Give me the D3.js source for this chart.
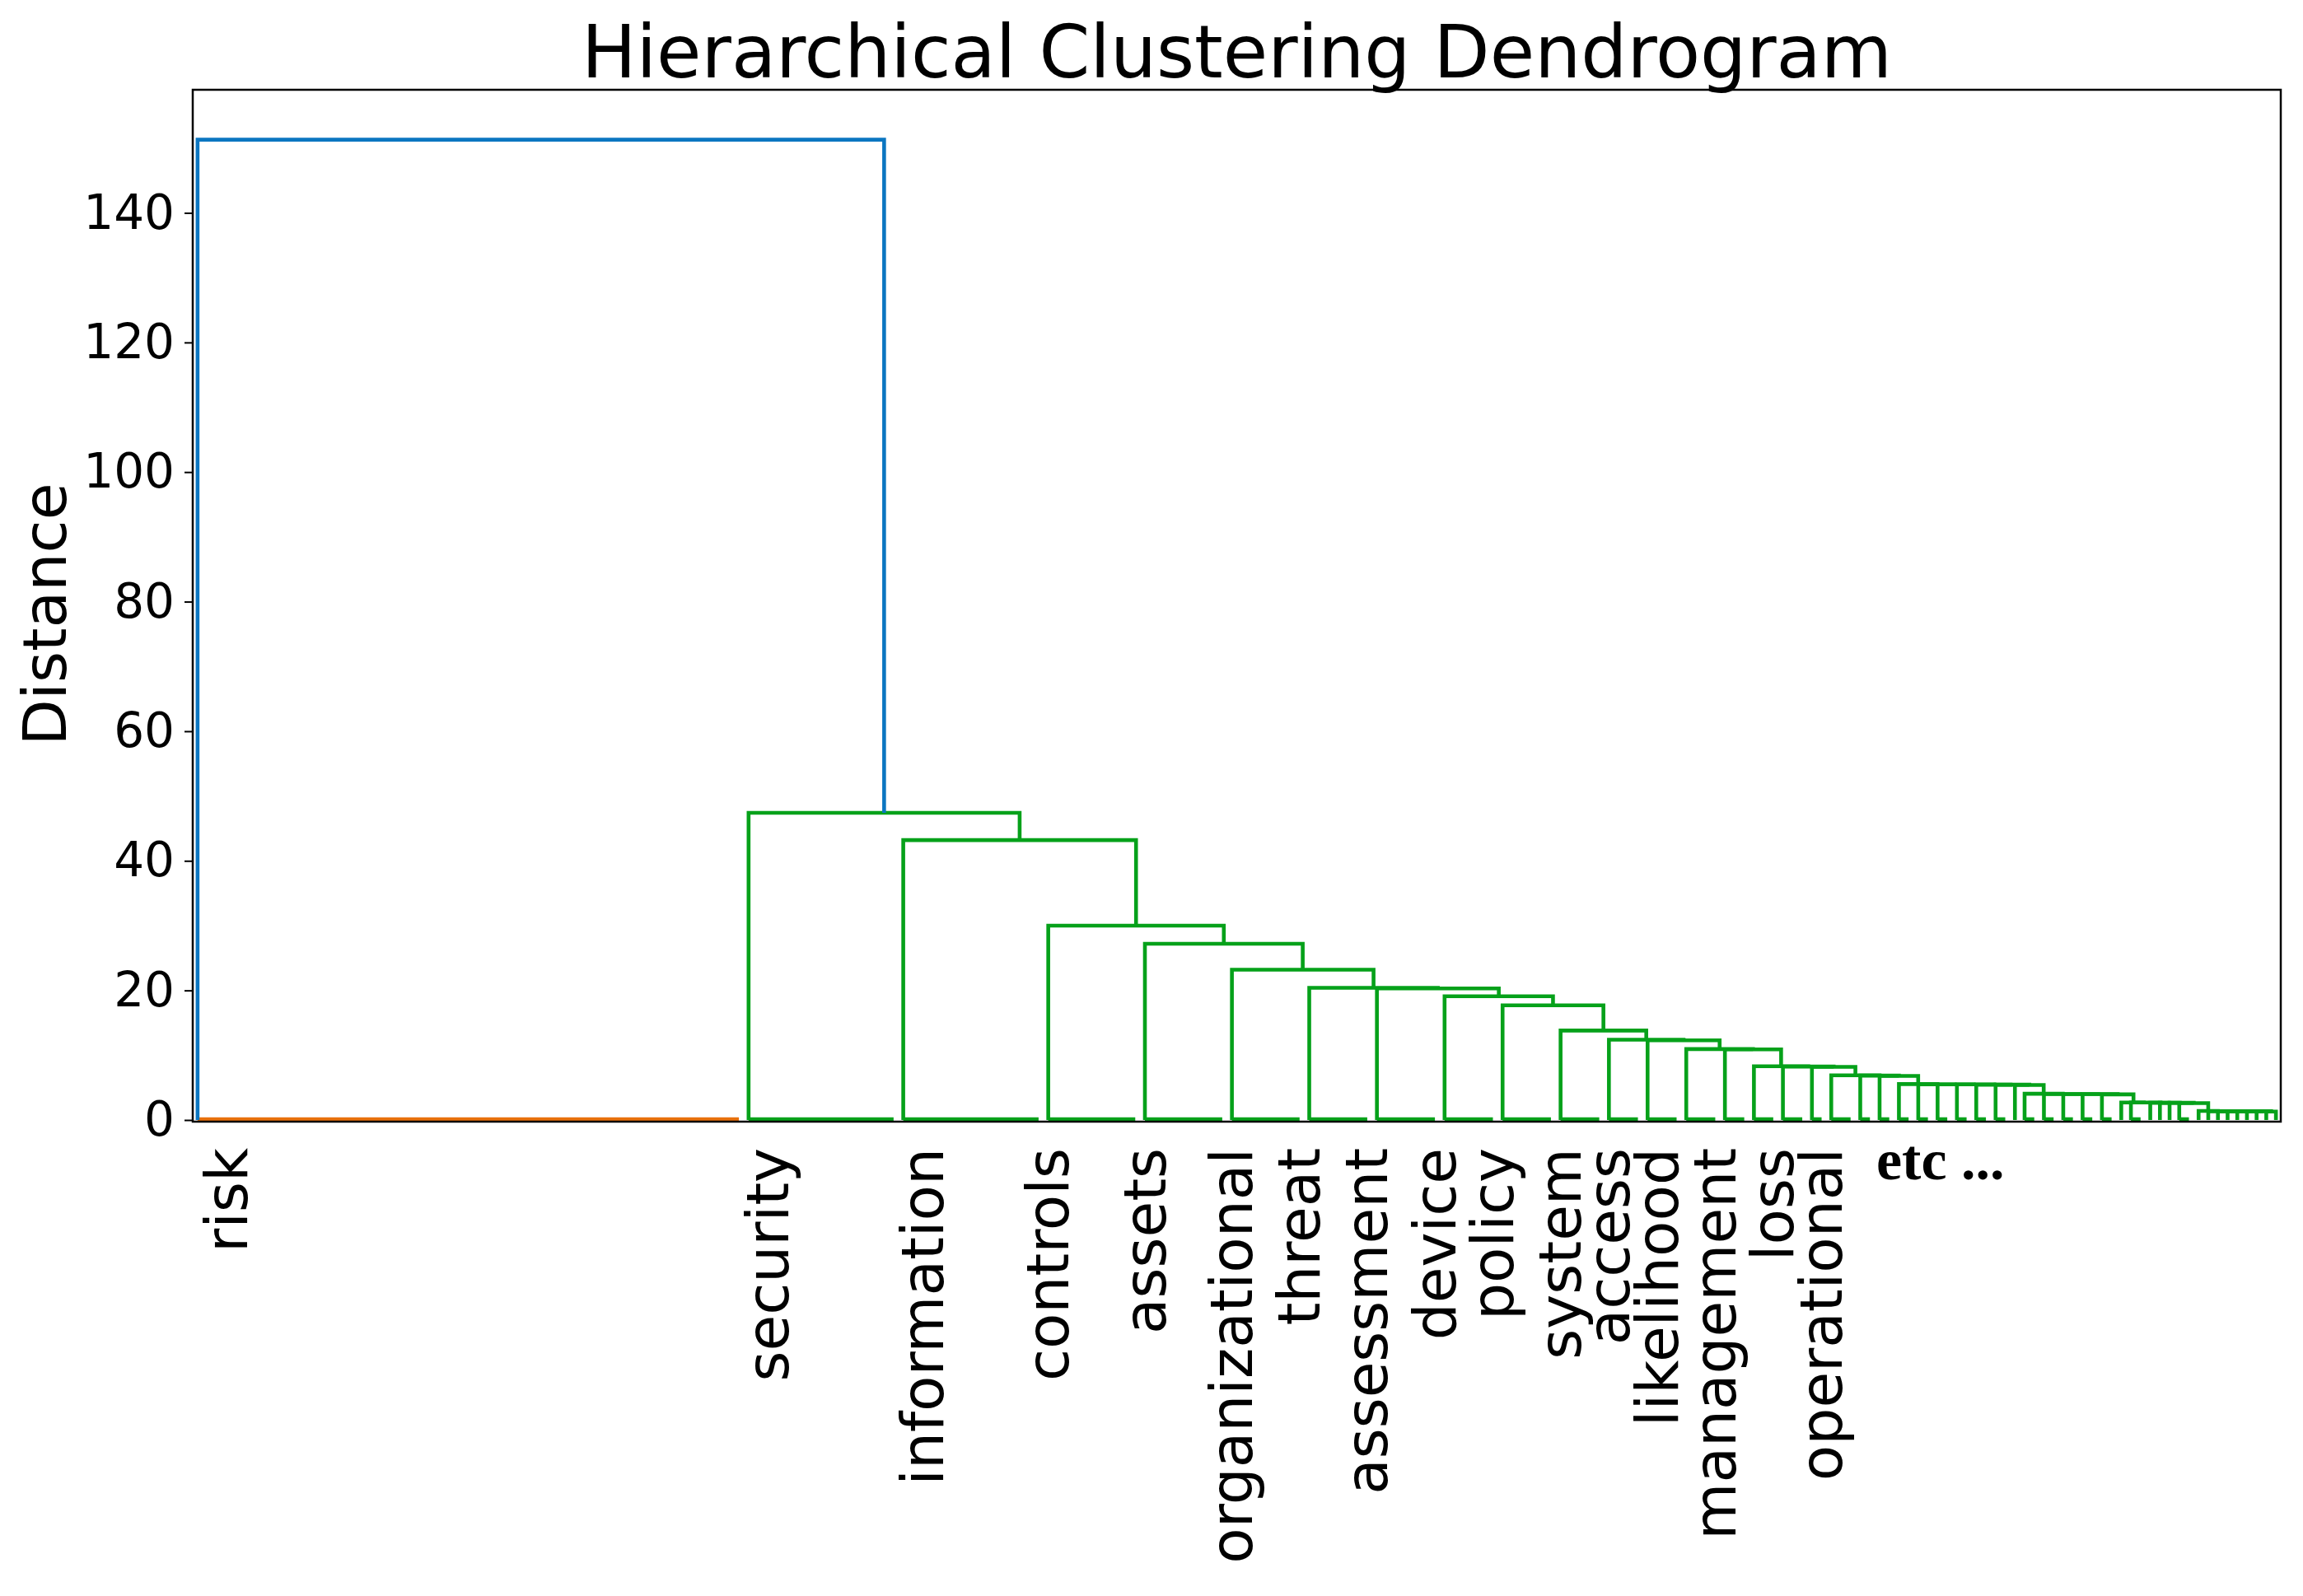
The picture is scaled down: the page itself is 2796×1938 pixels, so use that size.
<!DOCTYPE html>
<html>
<head>
<meta charset="utf-8">
<script src="https://cdn.jsdelivr.net/npm/d3@7"></script>
<style>
  html, body { margin: 0; padding: 0; background: #ffffff; }
  svg { display: block; }
</style>
</head>
<body>
<script>
// number of leaves in each leaf group, in dendrogram order (first group = "risk")
const groupSizes = [57, 16, 15, 10, 9, 8, 7, 7, 6, 6,
                    5, 4, 4, 4, 3, 3, 3, 2, 3, 2,
                    2, 2, 2, 2, 2, 2, 2, 1, 2, 2,
                    2, 2, 2, 1, 2, 1, 1, 1, 2,
                    1, 1, 1, 1, 1, 1, 1, 1, 1];

// height at which each group joins everything to its right
const mergeHeights = [151.3, 47.4, 43.2, 30.0, 27.2, 23.2, 20.4, 20.3, 19.1, 17.7,
                      13.8, 12.4, 12.3, 10.95, 10.9, 8.3, 8.25, 8.2, 6.9, 6.85,
                      6.8, 5.55, 5.5, 5.5, 5.5, 5.45, 5.45, 5.4, 4.05, 4.0,
                      4.0, 4.0, 3.95, 2.7, 2.7, 2.65, 2.65, 2.65, 2.6, 1.4,
                      1.35, 1.35, 1.35, 1.35, 1.35, 1.35, 1.3];

// word labels and the leaf each one sits under
const leafLabels = ["risk", "security", "information", "controls", "assets", "organizational",
                    "threat", "assessment", "device", "policy", "system", "access",
                    "likelihood", "management", "loss", "operational"];
const labelLeaf = [3, 59, 75, 88, 98, 107, 114, 121, 128, 134, 141, 146, 151, 157, 163, 168];

// y axis ticks
const yTicks = [0, 20, 40, 60, 80, 100, 120, 140];
const yMax = 159;

// colours
const ABOVE_COLOR = "#0b76c1";
const RISK_COLOR = "#e8700c";
const CLUSTER_COLOR = "#06a11a";

const LINE_W = 4.6;

const W = 2796, H = 1938;
const FONT = "'DejaVu Sans', sans-serif";

const svg = d3.select("body").append("svg")
    .attr("width", W)
    .attr("height", H);

const nLeaves = d3.sum(groupSizes);

// leaf scale and distance scale
const x = d3.scaleLinear().domain([0, nLeaves]).range([234, 2769]);
const y = d3.scaleLinear().domain([0, yMax]).range([1360, 109]);

// first leaf of each group
const starts = Array.from(d3.cumsum([0, ...groupSizes])).slice(0, -1);
const stems = starts.map(s => s + 0.5);

// build the links from the right end: each group joins the cluster to its right
const links = [];
let rightX = stems[stems.length - 1];
let rightH = 0;
for (let k = stems.length - 2; k >= 0; k--) {
    links.push({
        x0: stems[k], h0: 0,
        x1: rightX, h1: rightH,
        h: mergeHeights[k],
        color: k === 0 ? ABOVE_COLOR : CLUSTER_COLOR
    });
    rightX = (stems[k] + rightX) / 2;
    rightH = mergeHeights[k];
}

const plot = svg.append("g");

// leaves inside a group, joined at ~0 distance
plot.selectAll("line.group")
    .data(groupSizes.map((s, i) => ({ start: starts[i], size: s, i })).filter(d => d.size > 1))
    .enter()
    .append("line")
    .classed("group", true)
    .attr("x1", d => x(d.start + 0.5))
    .attr("x2", d => x(d.start + d.size - 0.5))
    .attr("y1", y(0) - 1)
    .attr("y2", y(0) - 1)
    .style("stroke", d => d.i === 0 ? RISK_COLOR : CLUSTER_COLOR)
    .style("stroke-width", LINE_W);

// the U shaped links
plot.selectAll("path.link")
    .data(links)
    .enter()
    .append("path")
    .classed("link", true)
    .attr("d", d => `M${x(d.x0)},${y(d.h0)}V${y(d.h)}H${x(d.x1)}V${y(d.h1)}`)
    .style("fill", "none")
    .style("stroke", d => d.color)
    .style("stroke-width", LINE_W);

// frame (bottom edge sits just under the zero line)
svg.append("rect")
    .attr("x", x(0))
    .attr("y", y(yMax))
    .attr("width", x(nLeaves) - x(0))
    .attr("height", y(0) - y(yMax) + 2)
    .style("fill", "none")
    .style("stroke", "#000000")
    .style("stroke-width", 2.5);

// y axis
const yAxis = svg.append("g")
    .attr("transform", `translate(${x(0)},0)`)
    .call(d3.axisLeft(y).tickValues(yTicks).tickSize(10).tickPadding(12));
yAxis.select(".domain").remove();
yAxis.selectAll(".tick line").style("stroke", "#000000").style("stroke-width", 2);
yAxis.selectAll(".tick text")
    .style("font-family", FONT)
    .style("font-size", "58px")
    .style("fill", "#000000");

// title
svg.append("text")
    .text("Hierarchical Clustering Dendrogram")
    .attr("x", (x(0) + x(nLeaves)) / 2)
    .attr("y", 94)
    .attr("text-anchor", "middle")
    .style("font-family", FONT)
    .style("font-size", "88.5px")
    .style("fill", "#000000");

// y label
svg.append("text")
    .text("Distance")
    .attr("transform", "translate(80,746) rotate(-90)")
    .attr("text-anchor", "middle")
    .style("font-family", FONT)
    .style("font-size", "73px")
    .style("fill", "#000000");

// leaf labels
svg.selectAll("text.leaf")
    .data(leafLabels)
    .enter()
    .append("text")
    .classed("leaf", true)
    .text(d => d)
    .attr("transform", (d, i) => `translate(${x(labelLeaf[i] + 0.5)},1394) rotate(-90)`)
    .attr("text-anchor", "end")
    .attr("dominant-baseline", "central")
    .style("font-family", FONT)
    .style("font-size", "71px")
    .style("fill", "#000000");

// note after the last label
svg.append("text")
    .text("etc ...")
    .attr("x", 2278)
    .attr("y", 1432)
    .style("font-family", "'Liberation Serif', 'Times New Roman', serif")
    .style("font-weight", "bold")
    .style("font-size", "70px")
    .style("fill", "#000000");
</script>
</body>
</html>
